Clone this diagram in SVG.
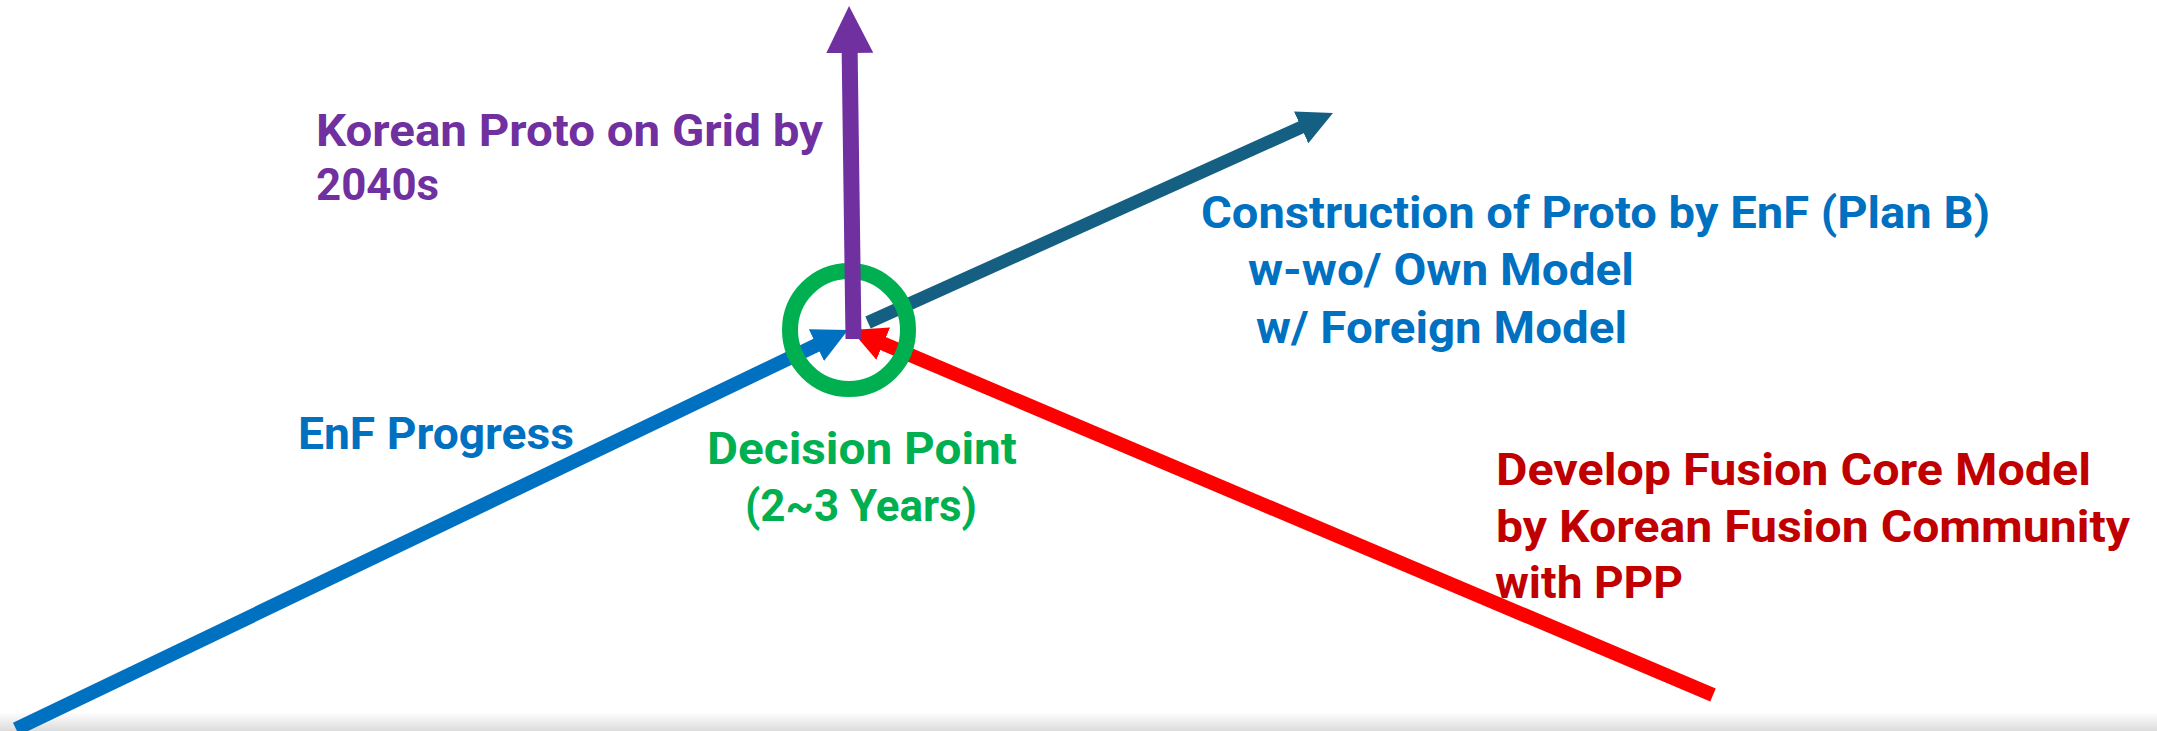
<svg xmlns="http://www.w3.org/2000/svg" width="2157" height="731" viewBox="0 0 2157 731">
<defs>
  <marker id="headBlue" viewBox="0 0 10 10" refX="1" refY="5" markerWidth="35" markerHeight="35" markerUnits="userSpaceOnUse" orient="auto">
    <path d="M0,0 L10,5 L0,10 z" fill="#0070C0"/>
  </marker>
  <marker id="headRed" viewBox="0 0 10 10" refX="1" refY="5" markerWidth="35" markerHeight="35" markerUnits="userSpaceOnUse" orient="auto">
    <path d="M0,0 L10,5 L0,10 z" fill="#FF0000"/>
  </marker>
  <marker id="headTeal" viewBox="0 0 10 10" refX="1" refY="5" markerWidth="35" markerHeight="35" markerUnits="userSpaceOnUse" orient="auto">
    <path d="M0,0 L10,5 L0,10 z" fill="#156082"/>
  </marker>
  <marker id="headPurple" viewBox="0 0 10 10" refX="1" refY="5" markerWidth="47" markerHeight="47" markerUnits="userSpaceOnUse" orient="auto">
    <path d="M0,0 L10,5 L0,10 z" fill="#7030A0"/>
  </marker>
  <linearGradient id="shade" x1="0" y1="0" x2="0" y2="1">
    <stop offset="0" stop-color="#ffffff"/>
    <stop offset="1" stop-color="#dcdcdc"/>
  </linearGradient>
</defs>
<style>
  text { font-family: Roboto, "Liberation Sans", sans-serif; font-weight: 700; font-size: 45px; }
  .purple { fill: #7030A0; font-size: 45px; }
  .blue { fill: #0070C0; }
  .green { fill: #00B050; }
  .dred { fill: #C00000; }
  .conn { fill: none; stroke-linecap: butt; }
</style>
<rect x="0" y="0" width="2157" height="731" fill="#ffffff"/>
<rect x="0" y="712" width="2157" height="19" fill="url(#shade)"/>

<g id="connectors">
  <line class="conn" x1="16" y1="729" x2="819.6" y2="343.6" stroke="#0070C0" stroke-width="14" marker-end="url(#headBlue)"/>
  <line class="conn" x1="1713" y1="695" x2="880" y2="342.3" stroke="#FF0000" stroke-width="14" marker-end="url(#headRed)"/>
  <line class="conn" x1="868" y1="322.5" x2="1304.3" y2="125.9" stroke="#156082" stroke-width="13" marker-end="url(#headTeal)"/>
</g>

<g id="decision-point">
  <circle cx="849" cy="330" r="59" fill="none" stroke="#00B050" stroke-width="16"/>
  <text class="green" x="862" y="464" text-anchor="middle" textLength="310" lengthAdjust="spacingAndGlyphs">Decision Point</text>
  <text class="green" x="861" y="521" text-anchor="middle" textLength="232" lengthAdjust="spacingAndGlyphs">(2~3 Years)</text>
</g>

<g id="connector-up">
  <line class="conn" x1="853.5" y1="339" x2="849.6" y2="48.3" stroke="#7030A0" stroke-width="16" marker-end="url(#headPurple)"/>
</g>

<g id="korean-proto">
  <text class="purple" x="316" y="146" textLength="507" lengthAdjust="spacingAndGlyphs">Korean Proto on Grid by</text>
  <text class="purple" x="316" y="200" textLength="123" lengthAdjust="spacingAndGlyphs">2040s</text>
</g>

<g id="construction-plan-b">
  <text class="blue" x="1201" y="228" textLength="789" lengthAdjust="spacingAndGlyphs">Construction of Proto by EnF (Plan B)</text>
  <text class="blue" x="1248" y="285" textLength="386" lengthAdjust="spacingAndGlyphs">w-wo/ Own Model</text>
  <text class="blue" x="1256" y="343" textLength="371" lengthAdjust="spacingAndGlyphs">w/ Foreign Model</text>
</g>

<g id="enf-progress">
  <text class="blue" x="298" y="449" textLength="276" lengthAdjust="spacingAndGlyphs">EnF Progress</text>
</g>

<g id="develop-core-model">
  <text class="dred" x="1496" y="485" textLength="595" lengthAdjust="spacingAndGlyphs">Develop Fusion Core Model</text>
  <text class="dred" x="1496" y="542" textLength="634" lengthAdjust="spacingAndGlyphs">by Korean Fusion Community</text>
  <text class="dred" x="1495" y="598" textLength="188" lengthAdjust="spacingAndGlyphs">with PPP</text>
</g>
</svg>
